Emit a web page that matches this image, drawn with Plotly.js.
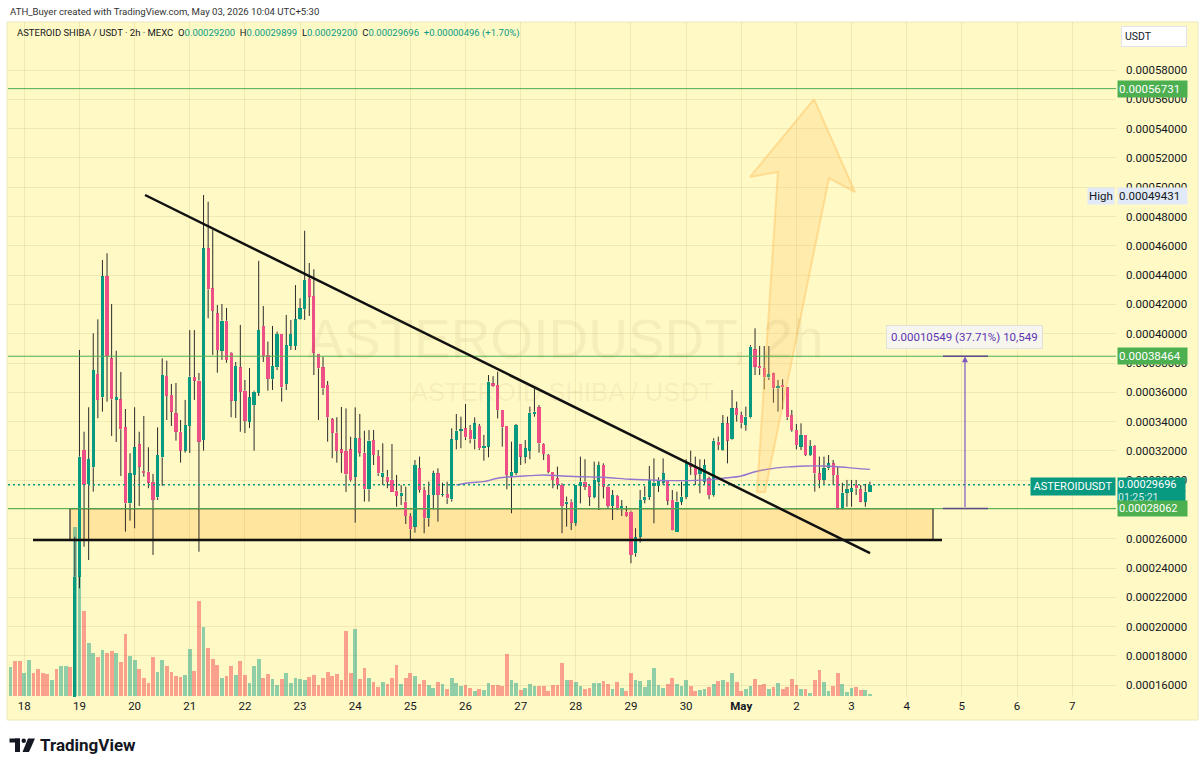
<!DOCTYPE html>
<html>
<head>
<meta charset="utf-8">
<script src="https://cdn.plot.ly/plotly-3.0.1.min.js"></script>
<style>
html,body{margin:0;padding:0;background:#ffffff;}
#chart{width:1200px;height:770px;}
</style>
</head>
<body>
<div id="chart"></div>
<script>
// ---------------- DATA ----------------
const firstCandle = '2026-04-17 18:00';   // 2h candles
const openP = [
0.0001280,0.0001295,0.0001275,0.0001250,0.0001278,0.0001325,0.0001290,0.0001260,0.0001242,0.0001228,
0.0001246,0.0001215,0.0001258,0.0001287,0.0001264,0.0002341,0.0003206,0.0002974,0.0003088,0.0003725,
0.0003566,0.0004394,0.0003832,0.0003548,0.0003552,0.0003361,0.0002842,0.0003036,0.0003245,0.0003063,
0.0003058,0.0002986,0.0002883,0.0003156,0.0003711,0.0003582,0.0003457,0.0003331,0.0003202,0.0003370,
0.0003703,0.0003680,0.0003275,0.0004583,0.0004310,0.0004139,0.0003884,0.0004089,0.0003870,0.0003543,
0.0003771,0.0003611,0.0003399,0.0003513,0.0003597,0.0004053,0.0003855,0.0003689,0.0003771,0.0003998,
0.0003657,0.0003916,0.0003916,0.0004098,0.0004167,0.0004372,0.0004257,0.0003862,0.0003771,0.0003650,
0.0003416,0.0003324,0.0003210,0.0003200,0.0003210,0.0003024,0.0003286,0.0003188,0.0002938,0.0003274,
0.0003165,0.0003024,0.0003024,0.0003002,0.0002929,0.0002892,0.0002854,0.0002756,0.0002683,0.0003081,
0.0002933,0.0002740,0.0002899,0.0003047,0.0002899,0.0002906,0.0002870,0.0003274,0.0003338,0.0003354,
0.0003343,0.0003279,0.0003370,0.0003218,0.0003229,0.0003661,0.0003650,0.0003479,0.0003370,0.0003029,
0.0003052,0.0003247,0.0003161,0.0003202,0.0003452,0.0003497,0.0003247,0.0003172,0.0003058,0.0003013,
0.0002967,0.0002838,0.0002854,0.0002710,0.0002960,0.0002990,0.0002960,0.0002888,0.0002990,0.0003104,
0.0002956,0.0002824,0.0002892,0.0002801,0.0002785,0.0002785,0.0002501,0.0002615,0.0002865,0.0002888,
0.0002960,0.0002960,0.0002983,0.0003002,0.0002865,0.0002649,0.0002854,0.0002888,0.0003120,0.0003097,
0.0003042,0.0002990,0.0003013,0.0002899,0.0003263,0.0003206,0.0003388,0.0003279,0.0003491,0.0003445,
0.0003377,0.0003429,0.0003893,0.0003780,0.0003764,0.0003702,0.0003730,0.0003627,0.0003650,0.0003634,
0.0003445,0.0003343,0.0003229,0.0003309,0.0003172,0.0003234,0.0003047,0.0003002,0.0003081,0.0003115,
0.0003036,0.0002808,0.0002915,0.0002922,0.0002967,0.0002938,0.0002854,0.00029200
];
const highP = [
0.0001310,0.0001330,0.0001300,0.0001290,0.0001340,0.0001340,0.0001310,0.0001280,0.0001260,0.0001255,
0.0001260,0.0001265,0.0001300,0.0001310,0.0002614,0.0003889,0.0003331,0.0003498,0.0004003,0.0004098,
0.0004503,0.0004549,0.0004203,0.0003884,0.0003739,0.0003486,0.0003184,0.0003498,0.0003331,0.0003438,
0.0003225,0.0003043,0.0003361,0.0003832,0.0003816,0.0003657,0.0003664,0.0003411,0.0003548,0.0004025,
0.0004025,0.0003732,0.0004947,0.0004901,0.0004708,0.0004196,0.0004203,0.0004176,0.0003875,0.0003807,
0.0004060,0.0003684,0.0003766,0.0003611,0.0004498,0.0004189,0.0003946,0.0004053,0.0004014,0.0003998,
0.0004128,0.0004094,0.0004332,0.0004242,0.0004703,0.0004483,0.0004440,0.0003862,0.0003841,0.0003677,
0.0003425,0.0003430,0.0003500,0.0003490,0.0003297,0.0003497,0.0003452,0.0003338,0.0003343,0.0003343,
0.0003206,0.0003252,0.0003070,0.0003247,0.0003036,0.0002967,0.0002956,0.0002774,0.0003138,0.0003161,
0.0002956,0.0002990,0.0003065,0.0003081,0.0002983,0.0002990,0.0003354,0.0003452,0.0003434,0.0003520,
0.0003377,0.0003429,0.0003384,0.0003309,0.0003718,0.0003710,0.0003741,0.0003479,0.0003370,0.0003263,
0.0003384,0.0003247,0.0003274,0.0003502,0.0003627,0.0003513,0.0003252,0.0003179,0.0003058,0.0003093,
0.0002979,0.0002888,0.0002869,0.0002967,0.0003161,0.0003143,0.0002967,0.0003127,0.0003127,0.0003115,
0.0002967,0.0002933,0.0002899,0.0002865,0.0002824,0.0002792,0.0002672,0.0002933,0.0002960,0.0003097,
0.0003149,0.0003020,0.0003149,0.0003002,0.0002933,0.0002922,0.0002990,0.0003143,0.0003202,0.0003161,
0.0003143,0.0003143,0.0003024,0.0003286,0.0003297,0.0003445,0.0003434,0.0003616,0.0003536,0.0003468,
0.0003502,0.0003923,0.0004037,0.0003916,0.0003916,0.0003916,0.0003734,0.0003684,0.0003689,0.0003634,
0.0003479,0.0003384,0.0003388,0.0003309,0.0003274,0.0003240,0.0003161,0.0003161,0.0003172,0.0003138,
0.0003093,0.0002983,0.0003002,0.0003002,0.0003002,0.0002967,0.0002974,0.00029899
];
const lowP = [
0.0001250,0.0001270,0.0001240,0.0001235,0.0001265,0.0001280,0.0001255,0.0001230,0.0001215,0.0001220,
0.0001205,0.0001208,0.0001249,0.0001250,0.0001250,0.0002262,0.0002546,0.0002455,0.0002922,0.0003423,
0.0003468,0.0003536,0.0003302,0.0003261,0.0003029,0.0002649,0.0002724,0.0002672,0.0002824,0.0003024,
0.0002945,0.0002490,0.0002865,0.0002961,0.0003411,0.0003370,0.0003270,0.0003120,0.0003188,0.0003186,
0.0003548,0.0002512,0.0003202,0.0004105,0.0003855,0.0003734,0.0003821,0.0003802,0.0003430,0.0003425,
0.0003331,0.0003322,0.0003356,0.0003202,0.0003575,0.0003807,0.0003611,0.0003616,0.0003752,0.0003536,
0.0003616,0.0003889,0.0003889,0.0004094,0.0004094,0.0004121,0.0003718,0.0003411,0.0003582,0.0003263,
0.0003150,0.0003120,0.0003050,0.0002920,0.0002990,0.0002710,0.0003161,0.0002854,0.0002854,0.0003104,
0.0003029,0.0002967,0.0002945,0.0002920,0.0002819,0.0002831,0.0002701,0.0002597,0.0002642,0.0002915,
0.0002638,0.0002683,0.0002801,0.0002717,0.0002888,0.0002838,0.0002854,0.0003211,0.0003218,0.0003274,
0.0003252,0.0003211,0.0003206,0.0003133,0.0003156,0.0003638,0.0003422,0.0003229,0.0002938,0.0002774,
0.0003036,0.0003104,0.0003115,0.0003143,0.0003434,0.0003188,0.0003138,0.0003047,0.0002945,0.0002938,
0.0002638,0.0002683,0.0002660,0.0002688,0.0002842,0.0002933,0.0002824,0.0002876,0.0002797,0.0002876,
0.0002808,0.0002728,0.0002797,0.0002756,0.0002751,0.0002433,0.0002478,0.0002574,0.0002842,0.0002865,
0.0002706,0.0002920,0.0002967,0.0002830,0.0002656,0.0002649,0.0002831,0.0002870,0.0003036,0.0002967,
0.0002911,0.0002967,0.0002870,0.0002888,0.0003206,0.0003202,0.0003115,0.0003274,0.0003400,0.0003354,
0.0003338,0.0003422,0.0003718,0.0003718,0.0003620,0.0003684,0.0003529,0.0003468,0.0003484,0.0003411,
0.0003331,0.0003211,0.0003206,0.0003165,0.0003165,0.0002922,0.0002945,0.0002967,0.0003070,0.0002967,
0.0002801,0.0002801,0.0002819,0.0002819,0.0002899,0.0002850,0.0002819,0.00029200
];
const closeP = [
0.0001295,0.0001275,0.0001250,0.0001278,0.0001325,0.0001290,0.0001260,0.0001242,0.0001228,0.0001246,
0.0001215,0.0001258,0.0001287,0.0001264,0.0002341,0.0003161,0.0002967,0.0003143,0.0003752,0.0003548,
0.0004394,0.0003848,0.0003552,0.0003568,0.0003348,0.0002842,0.0003047,0.0003225,0.0003092,0.0003049,
0.0002983,0.0002865,0.0003172,0.0003718,0.0003575,0.0003468,0.0003331,0.0003202,0.0003377,0.0003707,
0.0003680,0.0003263,0.0004583,0.0004303,0.0004157,0.0003889,0.0004089,0.0003821,0.0003543,0.0003780,
0.0003604,0.0003406,0.0003566,0.0003604,0.0004025,0.0003848,0.0003691,0.0003780,0.0003998,0.0003634,
0.0003923,0.0003998,0.0004098,0.0004173,0.0004367,0.0004253,0.0003870,0.0003764,0.0003627,0.0003430,
0.0003324,0.0003200,0.0003188,0.0003040,0.0003000,0.0003286,0.0003188,0.0002938,0.0003270,0.0003172,
0.0003047,0.0003052,0.0002990,0.0002922,0.0002892,0.0002915,0.0002756,0.0002665,0.0003104,0.0002933,
0.0002740,0.0002899,0.0003047,0.0002899,0.0002906,0.0002876,0.0003279,0.0003338,0.0003347,0.0003293,
0.0003279,0.0003388,0.0003218,0.0003234,0.0003673,0.0003643,0.0003479,0.0003361,0.0003036,0.0003058,
0.0003377,0.0003161,0.0003218,0.0003461,0.0003468,0.0003252,0.0003179,0.0003058,0.0003002,0.0002967,
0.0002824,0.0002854,0.0002710,0.0002967,0.0002990,0.0002956,0.0002888,0.0003002,0.0003104,0.0002956,
0.0002824,0.0002899,0.0002801,0.0002824,0.0002756,0.0002490,0.0002610,0.0002865,0.0002888,0.0003002,
0.0002983,0.0003002,0.0003047,0.0002860,0.0002658,0.0002854,0.0002888,0.0003127,0.0003093,0.0003036,
0.0003081,0.0003104,0.0002899,0.0003270,0.0003240,0.0003388,0.0003270,0.0003491,0.0003445,0.0003388,
0.0003434,0.0003912,0.0003775,0.0003764,0.0003702,0.0003725,0.0003627,0.0003643,0.0003634,0.0003429,
0.0003343,0.0003240,0.0003309,0.0003172,0.0003234,0.0003047,0.0003002,0.0003081,0.0003115,0.0003036,
0.0002808,0.0002915,0.0002938,0.0002945,0.0002945,0.0002854,0.0002922,0.00029696
];
// volume, millions
const volumeM = [
29.0,34.7,34.7,23.0,35.7,22.3,26.7,23.0,21.7,15.7,
26.3,29.7,29.7,28.3,169.0,149.0,84.7,53.0,42.3,39.0,
45.7,42.3,44.7,42.3,33.7,61.3,39.7,35.7,26.3,17.3,
13.0,39.0,23.7,35.7,29.7,24.0,19.7,19.0,20.7,46.3,
24.7,94.7,68.3,47.3,36.7,30.7,18.0,19.7,29.7,20.3,
35.0,20.7,12.3,29.7,36.3,18.0,21.3,16.3,10.7,16.3,
22.3,13.0,17.3,17.0,16.0,18.7,20.3,10.3,18.0,23.7,
19.3,22.0,16.0,64.7,22.7,67.0,17.0,28.0,17.7,13.7,
8.7,13.7,12.0,18.0,30.3,11.3,17.7,22.7,19.3,11.3,
16.0,10.3,8.0,13.7,11.3,6.7,17.7,13.0,9.3,11.0,
8.0,4.3,7.0,5.7,12.7,10.3,10.3,9.3,41.3,15.3,
12.7,5.3,7.3,12.0,9.3,9.3,9.3,4.3,10.3,10.3,
32.7,16.0,15.3,13.3,10.0,6.3,8.0,13.0,13.0,14.7,
12.0,7.0,13.7,8.0,4.7,22.7,16.0,14.7,8.7,15.3,
27.7,10.3,8.0,11.3,18.0,11.3,9.3,15.3,9.3,4.7,
5.3,7.0,8.7,11.3,14.7,16.0,13.7,22.7,13.7,4.7,
6.3,9.3,17.0,10.3,11.3,7.0,8.7,12.7,7.0,8.7,
17.0,10.3,6.3,6.3,3.0,15.3,26.0,13.7,4.7,9.3,
22.7,12.0,3.7,8.0,8.7,5.3,6.0,1.3
];
// moving average line (read at a few candles)
const maCandleIdx = [97,100,103,106,109,113,116,120,124,129,135,139,144,152,155,159,162,166,170,173,177,180,184,187];
const maValues = [0.0002967,0.0002983,0.0002990,0.0003013,0.0003024,0.0003031,0.0003036,0.0003029,0.0003024,0.0003020,
                  0.0003006,0.0003002,0.0002997,0.0003002,0.0003013,0.0003029,0.0003058,0.0003081,0.0003092,0.0003097,
                  0.0003097,0.0003092,0.0003081,0.0003074];
const dayTickDates = ['2026-04-18','2026-04-19','2026-04-20','2026-04-21','2026-04-22','2026-04-23','2026-04-24',
  '2026-04-25','2026-04-26','2026-04-27','2026-04-28','2026-04-29','2026-04-30','2026-05-01','2026-05-02',
  '2026-05-03','2026-05-04','2026-05-05','2026-05-06','2026-05-07'];
const dayTickLabels = ['18','19','20','21','22','23','24','25','26','27','28','29','30','<b>May</b>','2','3','4','5','6','7'];
const priceTicks = [0.00016,0.00018,0.0002,0.00022,0.00024,0.00026,0.00028,0.0003,0.00032,0.00034,0.00036,
  0.00038,0.0004,0.00042,0.00044,0.00046,0.00048,0.0005,0.00052,0.00054,0.00056,0.00058];
// drawings
const levelLines = [0.00056731, 0.00038464, 0.00028062];
const lastPrice = 0.00029696;
const athHigh = 0.00049431;
const zoneTop = 0.00028062, zoneBottom = 0.0002592;
const zoneTimes = ['2026-04-18 19:53', '2026-05-04 11:27'];
const supportTimes = ['2026-04-18 03:47', '2026-05-04 15:22'];
const trendTimes = ['2026-04-20 04:32', '2026-05-03 08:02'];
const trendPrices = [0.0004947, 0.0002503];
const arrowTimes = ['2026-05-02 07:40','2026-05-03 01:30','2026-05-02 14:11','2026-05-01 10:20','2026-05-01 06:51','2026-05-01 15:59','2026-05-01 03:49','2026-05-02 07:40'];
const arrowPrices = [0.0005602,0.0004967,0.0005063,0.0002920,0.0002920,0.0005104,0.0005070,0.0005602];
const measureTime = '2026-05-05 01:22';
const measureTickTimes = ['2026-05-04 15:47','2026-05-05 11:22'];
const measureLabelPrice = 0.0003981;
const xRange = ['2026-04-17 16:54', '2026-05-07 19:05'];

// ---------------- BUILD ----------------
const UP = '#089981', DOWN = '#EE4F86';
const BG = '#FFF9C6';
const GRID = 'rgba(150,130,50,0.13)';
const STEP = 2 * 3600 * 1000;
const t0 = Date.parse(firstCandle.replace(' ', 'T') + ':00Z');
const fmt = ms => new Date(ms).toISOString().slice(0, 16).replace('T', ' ');
const times = openP.map((_, i) => fmt(t0 + i * STEP));

const isUp = openP.map((o, i) => closeP[i] >= o);
const bodyBase = openP.map((o, i) => Math.min(o, closeP[i]));
const bodyTop = openP.map((o, i) => Math.max(o, closeP[i]));
const bodyLen = bodyTop.map((t, i) => Math.max(t - bodyBase[i], 0.0000009));

const wx = [], wy = [];
times.forEach((t, i) => {
  wx.push(t, t, null, t, t, null);
  wy.push(highP[i], bodyTop[i], null, bodyBase[i], lowP[i], null);
});

const traces = [
  { type: 'bar', x: times, y: volumeM, xaxis: 'x', yaxis: 'y', width: 0.82 * STEP,
    marker: { color: isUp.map(u => u ? 'rgba(8,153,129,0.45)' : 'rgba(242,54,69,0.45)'), line: { width: 0 } },
    hoverinfo: 'skip' },
  { type: 'bar', x: times, base: bodyBase, y: bodyLen, xaxis: 'x', yaxis: 'y2', width: 0.7 * STEP,
    marker: { color: isUp.map(u => u ? UP : DOWN), line: { width: 0 } }, hoverinfo: 'skip' },
  { type: 'scatter', mode: 'lines', x: wx, y: wy, xaxis: 'x', yaxis: 'y2',
    line: { color: '#2b2b2b', width: 1 }, hoverinfo: 'skip', connectgaps: false },
  { type: 'scatter', mode: 'lines', x: maCandleIdx.map(i => times[i]), y: maValues, xaxis: 'x', yaxis: 'y2',
    line: { color: '#9575CD', width: 1.4, shape: 'spline' }, hoverinfo: 'skip' },
  { type: 'scatter', mode: 'lines', x: arrowTimes, y: arrowPrices, xaxis: 'x', yaxis: 'y2', fill: 'toself',
    fillcolor: 'rgba(255,183,77,0.2)', line: { color: 'rgba(255,183,77,0.38)', width: 2 }, hoverinfo: 'skip' }
];

const px = X => (X - 8) / 1108;
const py = Y => (697 - Y) / 675;

const shapes = [
  { type: 'rect', xref: 'paper', yref: 'paper', x0: px(7), x1: px(1198), y0: py(720), y1: py(22),
    fillcolor: BG, line: { color: '#ECE6BE', width: 1 }, layer: 'below' },
  { type: 'rect', xref: 'x', yref: 'y2', x0: zoneTimes[0], x1: zoneTimes[1], y0: zoneBottom, y1: zoneTop,
    fillcolor: 'rgba(255,152,0,0.2)', line: { color: '#2a2a2a', width: 1.2 }, layer: 'below' },
  ...levelLines.map(v => ({ type: 'line', xref: 'paper', yref: 'y2', x0: 0, x1: 1, y0: v, y1: v,
    line: { color: '#4CAF50', width: 1 } })),
  { type: 'line', xref: 'paper', yref: 'y2', x0: 0, x1: 1, y0: lastPrice, y1: lastPrice,
    line: { color: UP, width: 1.5, dash: '2px,3px' } },
  { type: 'line', xref: 'x', yref: 'y2', x0: supportTimes[0], x1: supportTimes[1], y0: zoneBottom, y1: zoneBottom,
    line: { color: '#111111', width: 2.5 } },
  { type: 'line', xref: 'x', yref: 'y2', x0: trendTimes[0], x1: trendTimes[1], y0: trendPrices[0], y1: trendPrices[1],
    line: { color: '#111111', width: 2.5 } },
  { type: 'line', xref: 'x', yref: 'y2', x0: measureTickTimes[0], x1: measureTickTimes[1], y0: levelLines[1], y1: levelLines[1],
    line: { color: '#5E4B8B', width: 1.5 } },
  { type: 'line', xref: 'x', yref: 'y2', x0: measureTickTimes[0], x1: measureTickTimes[1], y0: levelLines[2], y1: levelLines[2],
    line: { color: '#5E4B8B', width: 1.5 } },
  // TradingView logo mark
  { type: 'rect', xref: 'paper', yref: 'paper', x0: px(9.5), x1: px(20), y0: py(742.5), y1: py(738.5), fillcolor: '#131722', line: { width: 0 } },
  { type: 'rect', xref: 'paper', yref: 'paper', x0: px(15), x1: px(20), y0: py(752), y1: py(738.5), fillcolor: '#131722', line: { width: 0 } },
  { type: 'circle', xref: 'paper', yref: 'paper', x0: px(21.5), x1: px(26), y0: py(743), y1: py(738.5), fillcolor: '#131722', line: { width: 0 } },
  { type: 'path', xref: 'paper', yref: 'paper',
    path: `M${px(28)},${py(738.5)} L${px(35)},${py(738.5)} L${px(29)},${py(752)} L${px(22.5)},${py(752)} Z`,
    fillcolor: '#131722', line: { width: 0 } }
];

function axisTag(text, price, bg, fg, extra) {
  return Object.assign({ xref: 'paper', x: 1, xanchor: 'left', xshift: 1, yref: 'y2', y: price, yanchor: 'middle',
    text: text, showarrow: false, bgcolor: bg, font: { size: 11.5, color: fg, family: 'Roboto' },
    borderpad: 1, width: 67, align: 'left' }, extra || {});
}
const teal = v => `<span style="color:${UP}">${v}</span>`;

const annotations = [
  { xref: 'paper', yref: 'paper', x: px(8), y: py(11), xanchor: 'left', yanchor: 'middle', showarrow: false,
    text: 'ATH_Buyer created with TradingView.com, May 03, 2026 10:04 UTC+5:30', font: { size: 9.6, color: '#333333' } },
  { xref: 'paper', yref: 'paper', x: px(15), y: py(33), xanchor: 'left', yanchor: 'middle', showarrow: false,
    text: 'ASTEROID SHIBA / USDT · 2h · MEXC&nbsp;&nbsp;O' + teal('0.00029200') + '&nbsp;&nbsp;H' + teal('0.00029899') +
      '&nbsp;&nbsp;L' + teal('0.00029200') + '&nbsp;&nbsp;C' + teal('0.00029696') + '&nbsp;&nbsp;' + teal('+0.00000496 (+1.70%)'),
    font: { size: 9.5, color: '#131722' } },
  { xref: 'paper', yref: 'paper', x: px(565), y: py(339), xanchor: 'center', yanchor: 'middle', showarrow: false,
    text: 'ASTEROIDUSDT, 2h', font: { size: 55, color: 'rgba(120,100,30,0.07)', family: 'Liberation Sans' } },
  { xref: 'paper', yref: 'paper', x: px(562), y: py(392), xanchor: 'center', yanchor: 'middle', showarrow: false,
    text: 'ASTEROID SHIBA / USDT', font: { size: 25.5, color: 'rgba(120,100,30,0.07)', family: 'Liberation Sans' } },
  // measurement
  { xref: 'x', yref: 'y2', x: measureTime, y: levelLines[1], axref: 'x', ayref: 'y2', ax: measureTime, ay: levelLines[2],
    text: '', showarrow: true, arrowhead: 2, arrowsize: 1, arrowwidth: 1.2, arrowcolor: '#7E57C2', standoff: 0 },
  { xref: 'x', yref: 'y2', x: measureTime, y: measureLabelPrice, xanchor: 'center', yanchor: 'middle', showarrow: false,
    text: '0.00010549 (37.71%) 10,549', font: { size: 11.5, color: '#5E35B1' },
    bgcolor: 'rgba(246,245,240,0.95)', bordercolor: '#E2E0D8', borderpad: 4 },
  // price-scale tags
  { xref: 'paper', yref: 'paper', x: px(1154), y: py(36.5), xanchor: 'center', yanchor: 'middle', showarrow: false,
    text: 'USDT', font: { size: 10.5, color: '#131722' }, bgcolor: '#ffffff', bordercolor: '#E0E3EB', borderpad: 3,
    width: 58, align: 'left' },
  axisTag('0.00056731', levelLines[0], '#4CAF50', '#ffffff'),
  { xref: 'paper', x: 1, xanchor: 'right', xshift: -1, yref: 'y2', y: athHigh, yanchor: 'middle', showarrow: false,
    text: 'High', bgcolor: '#E1EAF6', font: { size: 11.5, color: '#131722' }, borderpad: 1 },
  axisTag('0.00049431', athHigh, '#E1EAF6', '#131722'),
  axisTag('0.00038464', levelLines[1], '#4CAF50', '#ffffff'),
  axisTag('0.00029696', lastPrice, UP, '#ffffff', { yanchor: 'top', yshift: 8, borderpad: 0,
    font: { size: 11, color: '#ffffff', family: 'Roboto' } }),
  axisTag('01:25:21', lastPrice, UP, 'rgba(255,255,255,0.85)', { yanchor: 'top', yshift: -5, borderpad: 0,
    font: { size: 10.5, color: 'rgba(255,255,255,0.85)', family: 'Roboto' } }),
  { xref: 'paper', x: 1, xanchor: 'right', xshift: 0, yref: 'y2', y: lastPrice, yanchor: 'top', yshift: 8, showarrow: false,
    text: 'ASTEROIDUSDT', bgcolor: UP, font: { size: 11, color: '#ffffff' }, borderpad: 2, width: 80 },
  axisTag('0.00028062', levelLines[2], '#4CAF50', '#ffffff', { font: { size: 11, color: '#ffffff', family: 'Roboto' } }),
  { xref: 'paper', yref: 'paper', x: px(38), y: py(745), xanchor: 'left', yanchor: 'middle', showarrow: false,
    text: '<b>TradingView</b>', font: { size: 17, color: '#131722' } }
];

const layout = {
  width: 1200, height: 770,
  margin: { l: 8, r: 84, t: 22, b: 73, pad: 0 },
  paper_bgcolor: '#ffffff', plot_bgcolor: 'rgba(0,0,0,0)',
  showlegend: false, barmode: 'overlay', bargap: 0,
  font: { family: 'Roboto, sans-serif', color: '#131722' },
  xaxis: { type: 'date', range: xRange, tickmode: 'array', tickvals: dayTickDates, ticktext: dayTickLabels,
    showgrid: true, gridcolor: GRID, gridwidth: 1, zeroline: false, showline: false, ticks: '',
    tickfont: { size: 11.5, color: '#131722' }, fixedrange: true },
  yaxis: { range: [-1.5, 673.5], visible: false, fixedrange: true },
  yaxis2: { overlaying: 'y', side: 'right', range: [0.000152, 0.0006128], tickmode: 'array',
    tickvals: priceTicks, ticktext: priceTicks.map(v => v.toFixed(8)), showgrid: true, gridcolor: GRID,
    zeroline: false, showline: false, ticks: '', ticklabelstandoff: 9,
    tickfont: { size: 11.5, color: '#131722' }, fixedrange: true },
  shapes: shapes,
  annotations: annotations
};

Plotly.newPlot('chart', traces, layout, { staticPlot: true, displayModeBar: false });
</script>
</body>
</html>
